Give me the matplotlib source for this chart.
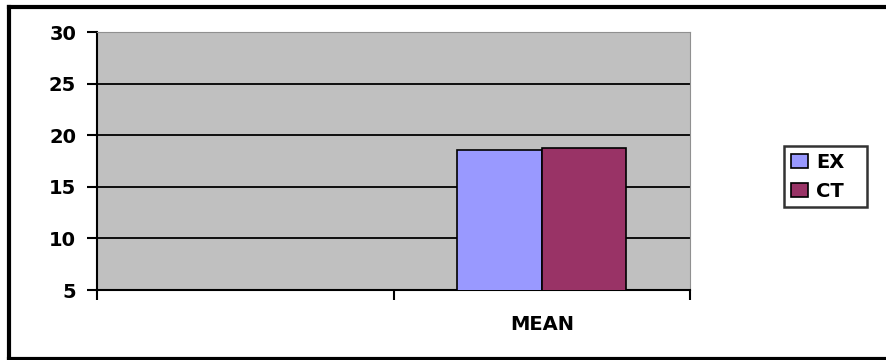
import numpy as np
import matplotlib.pyplot as plt
from matplotlib.lines import Line2D

categories = ['', 'MEAN']
series_names = ['EX', 'CT']
ex_values = [np.nan, 18.6]
ct_values = [np.nan, 18.8]
colors = ['#9999ff', '#993366']

plt.rcParams['font.family'] = ['DejaVu Sans']
plt.rcParams['font.weight'] = 'bold'

fig = plt.figure(figsize=(8.86, 3.6), dpi=100)
ax = fig.add_axes([97 / 886, 70 / 360, 593 / 886, 258 / 360])
ax.set_facecolor('#c0c0c0')

x = np.arange(len(categories))
w = 2 / 7
ax.bar(x - w / 2, ex_values, w, color=colors[0], edgecolor='black', linewidth=1.2,
       label=series_names[0], zorder=3)
ax.bar(x + w / 2, ct_values, w, color=colors[1], edgecolor='black', linewidth=1.2,
       label=series_names[1], zorder=3)

ax.set_ylim(5, 30)
ax.set_yticks([5, 10, 15, 20, 25, 30])
ax.set_xlim(-0.5, len(categories) - 0.5)
ax.set_xticks(np.arange(len(categories) + 1) - 0.5)
ax.set_xticklabels([])
ax.set_xticks(x, minor=True)
ax.set_xticklabels(categories, minor=True)
ax.tick_params(axis='x', which='minor', length=0, pad=18, labelsize=14)
ax.tick_params(axis='x', which='major', length=7, width=1.5, direction='out')
ax.tick_params(axis='y', length=7, width=1.5, direction='out', labelsize=14, pad=8)
ax.yaxis.grid(True, color='black', linewidth=1.3, zorder=1)
ax.set_axisbelow(True)

ax.spines['left'].set_linewidth(1.5)
ax.spines['bottom'].set_linewidth(1.5)
ax.spines['top'].set_color('#909090')
ax.spines['right'].set_color('#909090')

leg = fig.legend(loc='upper left', bbox_to_anchor=(784 / 886, 1 - 211 / 360, 83 / 886, 65 / 360),
                 mode='expand', frameon=True, fancybox=False, edgecolor='black', fontsize=14,
                 handlelength=0.9, handleheight=0.75, handletextpad=0.4,
                 borderpad=0.35, labelspacing=0.5, borderaxespad=0)
leg.get_frame().set_linewidth(1.8)

# outer frame (left, top, bottom; right edge is cut off)
x0, x1 = 8.5 / 886, 1.0
y0, y1 = 1.5 / 360, 1 - 7 / 360
for xs, ys in [([x0, x0], [y0, y1]), ([x0, x1], [y1, y1]), ([x0, x1], [y0, y0])]:
    fig.add_artist(Line2D(xs, ys, transform=fig.transFigure, color='black', linewidth=3))

fig.savefig('out.png', dpi=100)
